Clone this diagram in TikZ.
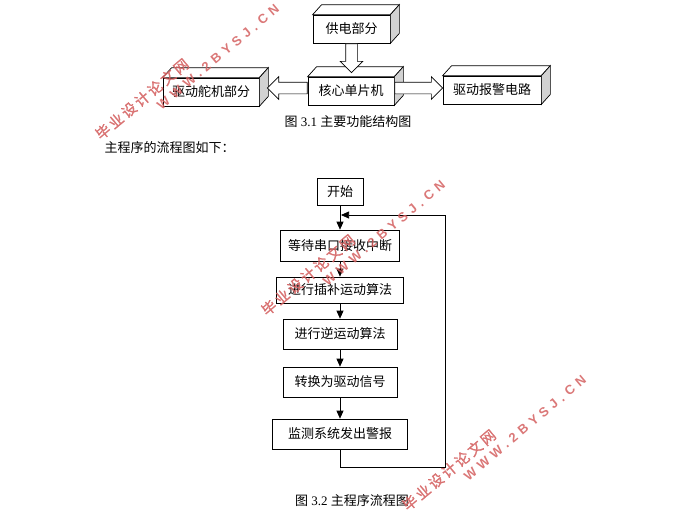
\documentclass[tikz,border=0pt]{standalone}
\usepackage{fontspec}
\setmainfont{Liberation Serif}
\newfontfamily\cjk{Noto Sans CJK SC}
\newfontfamily\wmcjk{Noto Sans CJK SC}[LetterSpace=17,FakeBold=1.2]
\newfontfamily\wmlatin{Liberation Sans}[LetterSpace=36]
\usetikzlibrary{shapes.arrows, arrows.meta, positioning, calc}
\definecolor{wmred}{RGB}{212,96,96}

\begin{document}
\begin{tikzpicture}[
    x=1pt, y=-1pt, line width=0.7pt,
    cube/.style={draw,fill=white,inner sep=0pt,minimum height=28pt,font=\cjk\fontsize{13}{15}\selectfont},
    hollow/.style={single arrow,draw,fill=white,inner sep=5.5pt,minimum width=22pt,single arrow head extend=5.5pt,single arrow head indent=0pt},
    stepbox/.style={draw,fill=white,inner sep=0pt,minimum height=30pt,font=\cjk\fontsize{13}{15}\selectfont},
    flow/.style={-{Triangle[length=8pt,width=7pt]}},
    caption/.style={font=\fontsize{13}{15}\selectfont},
    wmark/.style={text=wmred,rotate=40,inner sep=0pt,opacity=0.85}
  ]
    \useasboundingbox (0,0) rectangle (692,512);

    % structure diagram
    \node[cube, minimum width=77pt] (power) at (351.5,29) {供电部分};
    \node[cube, minimum width=86pt] (core) at (351,91) {核心单片机};
    \node[cube, minimum width=96pt] (servo) at (211,92) {驱动舵机部分};
    \node[cube, minimum width=98pt] (alarm) at (492,90) {驱动报警电路};
    \foreach \b in {power,core,servo,alarm} {
      \draw[fill=white] (\b.north west) -- ++(9,-10) -- ([shift={(9,-10)}]\b.north east) -- (\b.north east) -- cycle;
      \draw[fill=gray!35] (\b.north east) -- ++(9,-10) -- ([shift={(9,-10)}]\b.south east) -- (\b.south east) -- cycle;
    }
    \node[hollow, shape border rotate=270, minimum height=29pt, anchor=tail] (feed) at (power.south) {};
    \node[hollow, shape border rotate=180, minimum height=40pt, anchor=tail] (toservo) at ([yshift=3pt]core.west) {};
    \node[hollow, minimum height=48pt, anchor=tail] (toalarm) at ([yshift=3pt]core.east) {};
    \node[caption] (cap1) at (348,122) {{\cjk 图} 3.1 {\cjk 主要功能结构图}};
    \node[caption, anchor=west] (intro) at (101,148) {\cjk 主程序的流程图如下：};

    % flow chart
    \node[stepbox, minimum width=46pt, minimum height=27pt] (start) at (340,191.5) {开始};
    \node[stepbox, minimum width=119pt, minimum height=31pt] (wait) at (340,245.5) {等待串口接收中断};
    \node[stepbox, minimum width=127pt, minimum height=26pt] (interp) at (340,290) {进行插补运动算法};
    \node[stepbox, minimum width=114pt] (inverse) at (340,334) {进行逆运动算法};
    \node[stepbox, minimum width=114pt] (convert) at (340,382) {转换为驱动信号};
    \node[stepbox, minimum width=135pt] (monitor) at (340,434) {监测系统发出警报};
    \coordinate (loopin) at (341,215);
    \coordinate (loopcorner) at (445,467);
    \draw[flow] (start) -- (wait);
    \draw[flow] (wait) -- (interp);
    \draw[flow] (interp) -- (inverse);
    \draw[flow] (inverse) -- (convert);
    \draw[flow] (convert) -- (monitor);
    \draw[flow] (monitor.south) |- (loopcorner) |- (loopin);
    \node[caption] (cap2) at (352,501) {{\cjk 图} 3.2 {\cjk 主程序流程图}};

    % watermarks
    \node[wmark, font=\wmcjk\fontsize{14.5}{14.5}\selectfont] (wm1a) at (142,99) {毕业设计论文网};
    \node[wmark, font=\wmlatin\bfseries\fontsize{13}{13}\selectfont] (wm1b) at (218,57) {WWW.2BYSJ.CN};
    \node[wmark, font=\wmcjk\fontsize{14.5}{14.5}\selectfont] (wm2a) at (308,275) {毕业设计论文网};
    \node[wmark, font=\wmlatin\bfseries\fontsize{13}{13}\selectfont] (wm2b) at (384,233) {WWW.2BYSJ.CN};
    \node[wmark, font=\wmcjk\fontsize{14.5}{14.5}\selectfont] (wm3a) at (449,470) {毕业设计论文网};
    \node[wmark, font=\wmlatin\bfseries\fontsize{13}{13}\selectfont] (wm3b) at (525,428) {WWW.2BYSJ.CN};
\end{tikzpicture}
\end{document}
